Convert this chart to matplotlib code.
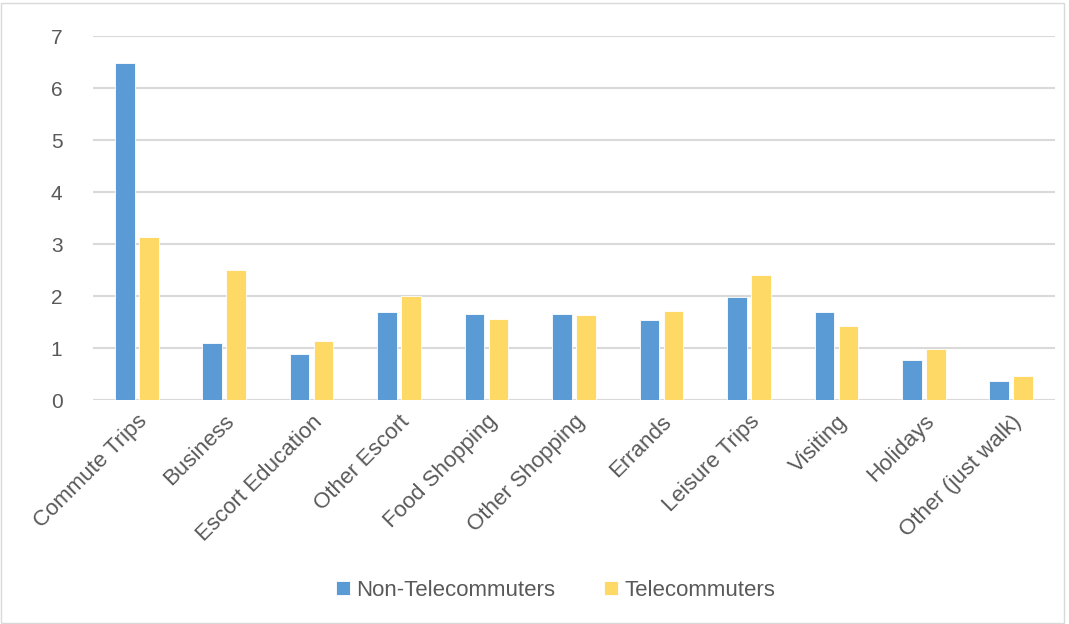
import numpy as np
import matplotlib
matplotlib.use("Agg")
import matplotlib.pyplot as plt
from matplotlib.patches import Rectangle

categories = ["Commute Trips", "Business", "Escort Education", "Other Escort",
              "Food Shopping", "Other Shopping", "Errands", "Leisure Trips",
              "Visiting", "Holidays", "Other (just walk)"]
non_tele = [6.49, 1.09, 0.88, 1.69, 1.65, 1.66, 1.53, 1.99, 1.69, 0.76, 0.37]
tele = [3.14, 2.50, 1.13, 2.00, 1.55, 1.63, 1.72, 2.41, 1.42, 0.99, 0.46]

blue = "#5B9BD5"
yellow = "#FFD966"
text_col = "#595959"

plt.rcParams["font.family"] = ["Liberation Sans", "DejaVu Sans"]

fig = plt.figure(figsize=(10.69, 6.24), dpi=100)
ax = fig.add_axes([93 / 1069, 1 - 400 / 624, (1055 - 93) / 1069, (400 - 36) / 624])

x = np.arange(len(categories))
w = 0.225
ax.bar(x - 0.137, non_tele, width=w, color=blue, edgecolor="white", linewidth=0.6, zorder=3,
       label="Non-Telecommuters")
ax.bar(x + 0.137, tele, width=w, color=yellow, edgecolor="white", linewidth=0.6, zorder=3,
       label="Telecommuters")

ax.set_xlim(-0.5, len(categories) - 0.5)
ax.set_ylim(0, 7)
ax.set_yticks(range(0, 8))
ax.grid(axis="y", color="#D9D9D9", linewidth=1.5, zorder=0)
for s in ax.spines.values():
    s.set_visible(False)
ax.tick_params(axis="both", length=0, colors=text_col, labelsize=15)
ax.tick_params(axis="y", pad=22)
ax.set_xticks(x)
ax.set_xticklabels(categories, rotation=45, ha="right", rotation_mode="anchor", fontsize=16)
ax.tick_params(axis="x", pad=8)

ax.legend(loc="center", bbox_to_anchor=(0.52, 1 - 590 / 624), bbox_transform=fig.transFigure,
          ncol=2, frameon=False, fontsize=16, labelcolor=text_col, handlelength=0.6,
          handleheight=0.6, columnspacing=2.2, handletextpad=0.3)

fig.patches.append(Rectangle((1 / 1069, 1 / 624), 1063 / 1069, 620 / 624, transform=fig.transFigure,
                             fill=False, edgecolor="#D9D9D9", linewidth=1))

fig.savefig("out.png", dpi=100)
